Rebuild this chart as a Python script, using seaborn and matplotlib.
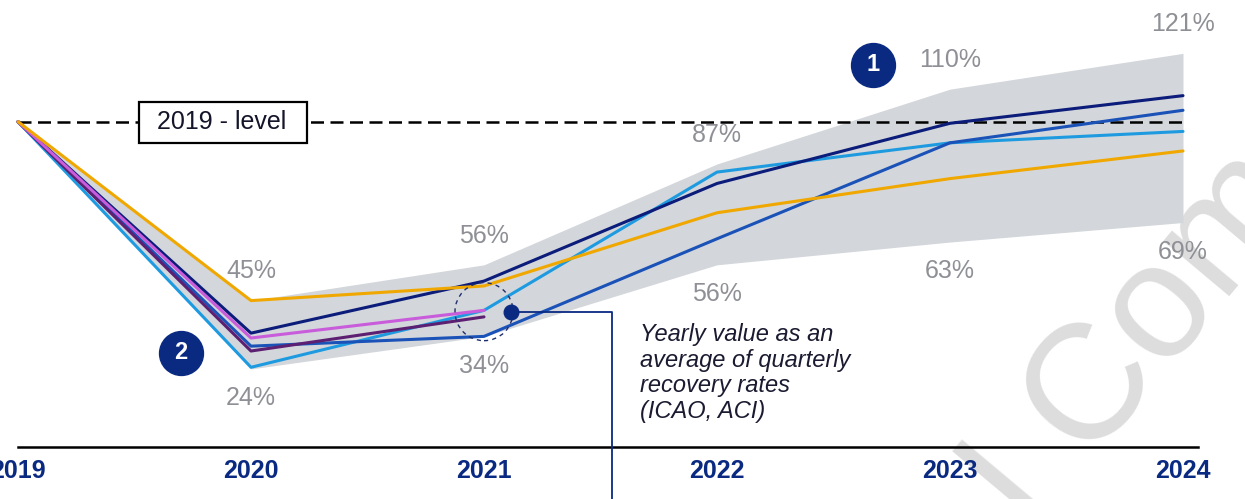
import pandas as pd
import matplotlib.pyplot as plt
import matplotlib.patches as mpatches
import seaborn as sns

# Werte (in % vom Niveau 2019)
years = [2019, 2020, 2021, 2022, 2023, 2024]
band_low = [100, 24, 34, 56, 63, 69]
band_high = [100, 45, 56, 87, 110, 121]

orange = [100, 45, 49.5, 72, 82.5, 91]
navy = [100, 35, 51, 81, 99.5, 108]
mid_blue = [100, 31, 34, 64, 93.5, 103.5]
light_blue = [100, 24.5, 42, 84.5, 93.5, 97]
years_short = [2019, 2020, 2021]
magenta = [100, 33.5, 42]
purple = [100, 29.5, 40]

low_labels = ["24%", "34%", "56%", "63%", "69%"]
high_labels = ["45%", "56%", "87%", "110%", "121%"]

NAVY = "#0A2A82"
GREY_TXT = "#8E9096"


def main():
    sns.set_theme(style="white")
    plt.rcParams['font.family'] = ['Liberation Sans', 'DejaVu Sans']

    rows = []
    for name, ys, xs in [("light", light_blue, years), ("mid", mid_blue, years),
                         ("navy", navy, years), ("purple", purple, years_short),
                         ("magenta", magenta, years_short), ("orange", orange, years)]:
        for x, y in zip(xs, ys):
            rows.append({"year": x, "value": y, "series": name})
    df = pd.DataFrame(rows)

    fig = plt.figure(figsize=(12.45, 4.99), dpi=100)
    ax = fig.add_axes([0, 52 / 499, 1, 447 / 499])
    ax.set_xlim(2019 - 18 / 233, 2019 + 1227 / 233)
    ax.set_ylim(0, 137.4)

    # Wasserzeichen
    ax.text(2023.34, -27.0, "I Com", rotation=50, fontsize=118, color="#DDDDDD",
            ha="left", va="baseline", rotation_mode="anchor", zorder=0, clip_on=False)

    # Szenario-Band
    ax.fill_between(years, band_low, band_high, color="#D3D6DA", lw=0, zorder=1)

    # Niveau 2019
    ax.plot([years[0], years[-1]], [100, 100], color="black", lw=1.8,
            dashes=(5.2, 2.6), zorder=2)
    ax.add_patch(mpatches.Rectangle((2019.519, 93.54), 0.721, 12.6, fc="white",
                                    ec="black", lw=1.6, zorder=6))
    ax.text(2019.876, 100, "2019 - level", fontsize=18, color="#14142A",
            ha="center", va="center", zorder=7)

    palette = {"light": "#1E9BE0", "mid": "#1A52B8", "navy": "#0B1C7A",
               "purple": "#5C1F72", "magenta": "#C85CDA", "orange": "#F0A800"}
    sns.lineplot(data=df, x="year", y="value", hue="series", palette=palette,
                 linewidth=2.2, legend=False, ax=ax, zorder=3)

    # Beschriftung Min/Max
    for x, lo, hi, tl, th in zip(years[1:], band_low[1:], band_high[1:], low_labels, high_labels):
        ax.annotate(th, (x, hi), xytext=(0, 21), textcoords="offset points",
                    ha="center", va="center", fontsize=18, color=GREY_TXT)
        ax.annotate(tl, (x, lo), xytext=(0, -21), textcoords="offset points",
                    ha="center", va="center", fontsize=18, color=GREY_TXT)

    # Markierung 2021 mit Verbindungslinie
    ax.add_patch(mpatches.Ellipse((2021.0, 41.6), 58 / 233, 58 / 3.253, fill=False,
                                  ec="#1F2F6E", lw=1, ls=(0, (3, 3)), zorder=4))
    ax.plot([2021.116, 2021.549, 2021.549], [41.6, 41.6, -16], color=NAVY, lw=1.3,
            clip_on=False, zorder=4)
    ax.scatter([2021.116], [41.6], s=110, color=NAVY, zorder=5)
    ax.text(2021.67, 38.0, "Yearly value as an\naverage of quarterly\nrecovery rates\n(ICAO, ACI)",
            fontsize=17, style="italic", color="#1A1A30", ha="left", va="top",
            linespacing=1.14)

    # Nummerierte Kreise
    for x, y, t in [(2022.67, 117.5, "1"), (2019.70, 29.0, "2")]:
        ax.scatter([x], [y], s=1000, color=NAVY, zorder=6)
        ax.text(x, y, t, color="white", fontsize=17, fontweight="bold",
                ha="center", va="center", zorder=7)

    # Achsen
    ax.set_xticks(years)
    ax.set_xticklabels([str(y) for y in years], fontsize=18, fontweight="bold", color=NAVY)
    ax.tick_params(axis="x", length=0, pad=9)
    ax.set_yticks([])
    ax.set_xlabel("")
    ax.set_ylabel("")
    for s in ["top", "right", "left"]:
        ax.spines[s].set_visible(False)
    ax.spines["bottom"].set_bounds(2019, 2024.065)
    ax.spines["bottom"].set_color("black")
    ax.spines["bottom"].set_linewidth(1.8)

    fig.savefig("out.png", dpi=100, facecolor="white")


if __name__ == "__main__":
    main()
